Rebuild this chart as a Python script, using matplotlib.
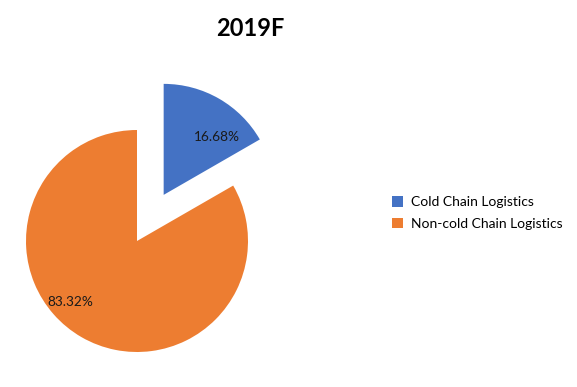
import matplotlib
matplotlib.use('Agg')
from matplotlib import pyplot as plt

labels = ['Cold Chain Logistics', 'Non-cold Chain Logistics']
shares = [16.68, 83.32]
colors = ['#4472C4', '#ED7D31']
explode = [0.48, 0]

plt.rcParams['font.family'] = ['Lato', 'DejaVu Sans']

W, H = 577, 387
fig = plt.figure(figsize=(W / 100, H / 100), dpi=100)
ax = fig.add_axes([0, 0, 1, 1])

# pie radius ~111 px, center at (137, 241) px
r = 111
cx, cy = 137, H - 241
wedges, texts, autotexts = ax.pie(shares, colors=colors, explode=explode,
                                  startangle=90, counterclock=False,
                                  autopct='%.2f%%', pctdistance=0.7,
                                  textprops={'fontsize': 9.8, 'color': '#1a1a1a'})
# move percentage labels to where they sit in the original
autotexts[0].set_position((0.72, 0.94))
autotexts[1].set_position((-0.60, -0.55))

ax.set_xlim(-cx / r, (W - cx) / r)
ax.set_ylim(-cy / r, (H - cy) / r)
ax.set_aspect('equal')
ax.axis('off')

fig.text(250 / W, 1 - 28 / H, '2019F', ha='center', va='center',
         fontsize=17, fontweight='bold')

fig.legend(wedges, labels, loc='center left', bbox_to_anchor=(379 / W, 1 - 213 / H),
           frameon=False, fontsize=10, handlelength=0.8, handleheight=0.8,
           handletextpad=0.6, labelspacing=0.7)

fig.savefig('out.png', dpi=100)
